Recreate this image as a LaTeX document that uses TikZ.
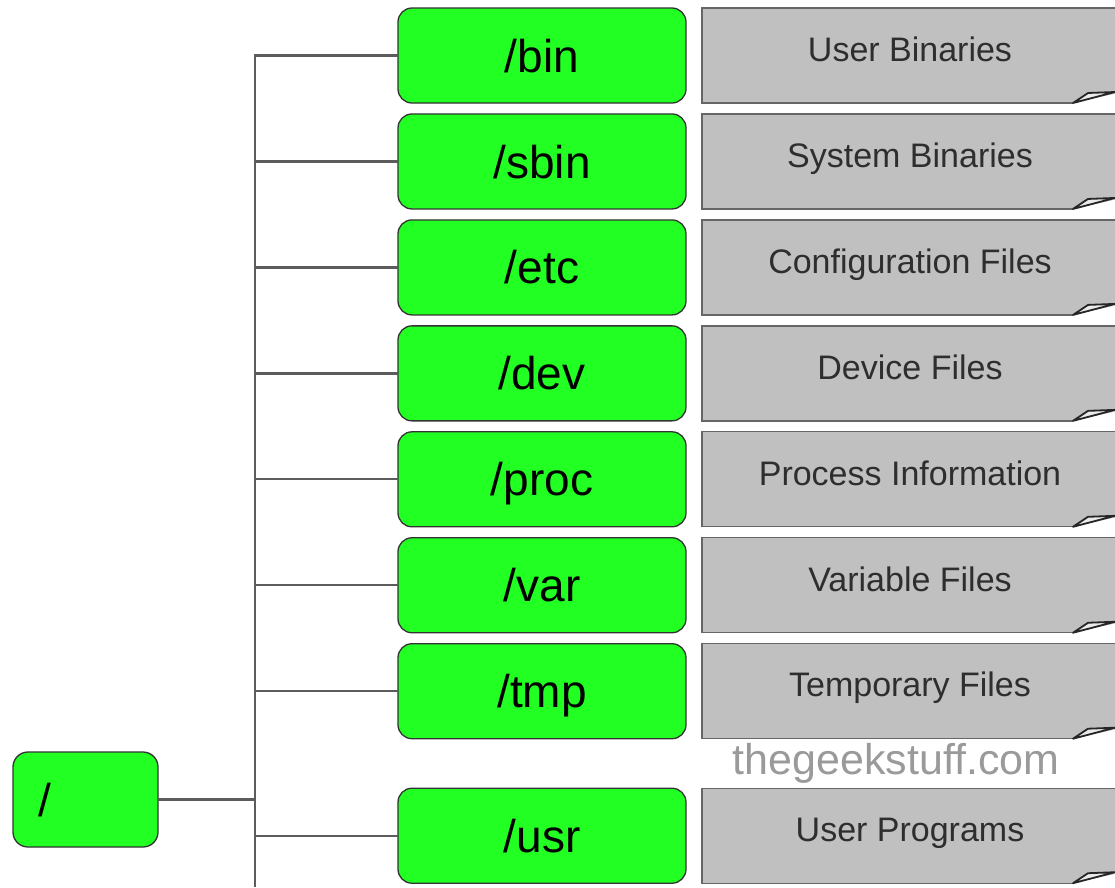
\documentclass[tikz,border=0pt]{standalone}
\usepackage{fontspec}
\setmainfont{Liberation Sans}
\usetikzlibrary{positioning,calc}

\definecolor{dirgreen}{HTML}{22FF22}
\definecolor{notegray}{HTML}{C0C0C0}
\definecolor{edgegray}{HTML}{5C5C5C}
\definecolor{markgray}{HTML}{9A9A9A}

\tikzset{
  dir/.style={draw=black!80, line width=1.3pt, fill=dirgreen, rounded corners=14pt,
    minimum width=288pt, minimum height=95pt, inner sep=0pt, outer sep=0pt,
    font=\fontsize{46}{50}\selectfont, text height=36.8pt, text depth=3.7pt},
  note/.style={draw=black!60, line width=1.3pt, fill=notegray,
    minimum width=416pt, minimum height=95pt, inner sep=0pt, outer sep=0pt, text=black!82,
    font=\fontsize{34}{38}\selectfont, text height=24.3pt, text depth=12.8pt},
  branch/.style={draw=edgegray, line width=2.3pt}
}

\begin{document}
\begin{tikzpicture}[x=1pt, y=-1pt, node distance=10.95pt and 16pt]
  \useasboundingbox (0,0) rectangle (1115,887);
  % directory nodes
  \node[dir] (bin) at (542,55.5) {/bin};
  \node[dir] (sbin) [below =of bin] {/sbin};
  \node[dir] (etc) [below =of sbin] {/etc};
  \node[dir] (dev) [below =of etc] {/dev};
  \node[dir] (proc) [below =of dev] {/proc};
  \node[dir] (var) [below =of proc] {/var};
  \node[dir] (tmp) [below =of var] {/tmp};
  \node[dir] (usr) [below =49.5pt of tmp] {/usr};
  % descriptions
  \node[note] (dbin) [right =of bin] {User Binaries};
  \node[note] (dsbin) [right =of sbin] {System Binaries};
  \node[note] (detc) [right =of etc] {Configuration Files};
  \node[note] (ddev) [right =of dev] {Device Files};
  \node[note] (dproc) [right =of proc] {Process Information};
  \node[note] (dvar) [right =of var] {Variable Files};
  \node[note] (dtmp) [right =of tmp] {Temporary Files};
  \node[note] (dusr) [right =of usr] {User Programs};
  % folded corners
  \foreach \n in {dbin,dsbin,detc,ddev,dproc,dvar,dtmp,dusr}{
    \fill[white] ($(\n.south east)+(-45,0)$) -- ($(\n.south east)+(5,-11)$)
      -- ($(\n.south east)+(5,2)$) -- ($(\n.south east)+(-45,2)$) -- cycle;
    \draw[black!85, line width=1.8pt, fill=black!8, line join=round]
      ($(\n.south east)+(-45,0)$) -- ($(\n.south east)+(-30,-10)$)
      -- ($(\n.south east)+(-3,-11)$) -- cycle;
  }
  % root
  \node[dir, minimum width=145pt, text width=95pt, align=left, inner xsep=25pt,
    rounded corners=15pt] (root) at (85.5,799.5) {/};
  \node[text=markgray, font=\fontsize{43}{46}\selectfont] (mark) at (896,763) {thegeekstuff.com};
  % tree lines
  \coordinate (trunkend) at (255,887);
  \draw[branch, line join=miter] (bin.west) -- (bin.west -| trunkend) -- (trunkend);
  \foreach \n in {sbin,etc,dev,proc,var,tmp,usr}
    \draw[branch] (\n.west) -- (\n.west -| trunkend);
  \draw[branch] (root.east) -- (root.east -| trunkend);
\end{tikzpicture}
\end{document}
